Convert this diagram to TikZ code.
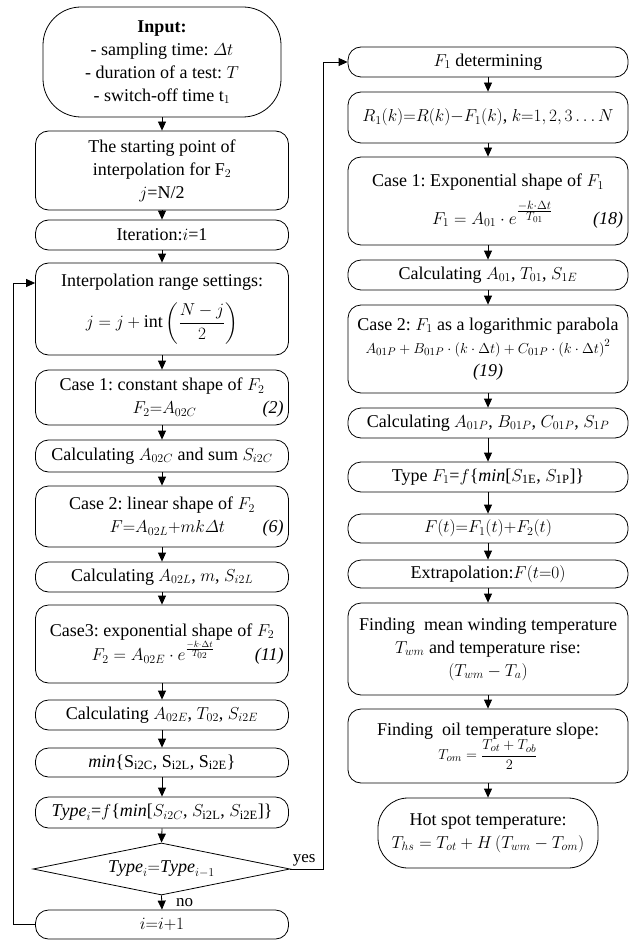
\documentclass[tikz,border=0pt]{standalone}
\usepackage{amsmath}
\usepackage{fontspec}
\setmainfont{Liberation Serif}
\frenchspacing
\usetikzlibrary{arrows.meta,positioning,shapes.geometric}
\tikzset{box/.style={draw,rounded corners=13pt,align=flush center,inner xsep=5pt,inner ysep=2pt,line width=.8pt,font=\fontsize{18}{23}\selectfont},lbox/.style={box,text width=243pt},rbox/.style={box,text width=270pt},decision/.style={diamond,aspect=5,draw,line width=.8pt,minimum width=257pt,minimum height=52pt,inner sep=0pt,font=\fontsize{18}{23}\selectfont},flow/.style={-{Triangle[length=9pt,width=8pt]},line width=.8pt},tag/.style={font=\fontsize{17}{20}\selectfont,inner sep=2pt}}

\begin{document}
\begin{tikzpicture}[x=1pt,y=-1pt]
        \useasboundingbox (0,0) rectangle (633,941);
        \node[lbox,text width=228pt,rounded corners=38pt,minimum height=110pt] (input) at (162,62) {\textbf{Input:}\\- sampling time: $\varDelta t$\\- duration of a test: $T$\\- switch-off time t$_1$};
        \node[lbox,minimum height=79pt] (start) at (162,170.5) {The starting point of\\interpolation for F$_2$\\$j$=N/2};
        \node[lbox,minimum height=30pt] (iter) at (162,235) {Iteration:$i$=1};
        \node[lbox,minimum height=92pt] (range) at (162,309) {Interpolation range settings:\\[11pt]$j=j+\mathrm{int}\left(\dfrac{N-j}{2}\right)$};
        \node[lbox,minimum height=55pt] (case1c) at (162,397.5) {Case 1: constant shape of $F_2$\\\hspace*{92pt}$F_2{=}A_{02C}$\hfill\textit{(2)}\hspace*{8pt}};
        \node[lbox,minimum height=32pt] (calcc) at (162,456) {Calculating $A_{02C}$ and sum $S_{i2C}$};
        \node[lbox,minimum height=61pt] (case2l) at (162,516.5) {Case 2: linear shape of $F_2$\\\hspace*{69pt}$F{=}A_{02L}{+}mk\varDelta t$\hfill\textit{(6)}\hspace*{16pt}};
        \node[lbox,minimum height=30pt] (calcl) at (162,577) {Calculating $A_{02L}$, $m$, $S_{i2L}$};
        \node[lbox,minimum height=78pt] (case3e) at (162,644) {Case3: exponential shape of $F_2$\\\hspace*{51pt}$F_2 = A_{02E}\cdot e^{\frac{-k\cdot\Delta t}{T_{02}}}$\hfill\textit{(11)}\hspace*{14pt}};
        \node[lbox,minimum height=30pt] (calce) at (162,715) {Calculating $A_{02E}$, $T_{02}$, $S_{i2E}$};
        \node[lbox,minimum height=29pt] (mins) at (162,762.5) {\textit{min}\{S$_{\mathrm{i2C}}$, S$_{\mathrm{i2L}}$, S$_{\mathrm{i2E}}$\}};
        \node[lbox,minimum height=31pt] (typei) at (162,812.5) {$\mathit{Type}_i${=}$f$\{\textit{min}[$S_{i2C}$, $S_{\mathrm{i2L}}$, $S_{\mathrm{i2E}}$]\}};
        \node[decision] (decide) at (161.5,869) {$\mathit{Type}_i{=}\mathit{Type}_{i-1}$};
        \node[lbox,minimum height=29pt] (incr) at (162,924.5) {$i{=}i{+}1$};
        \node[rbox,minimum height=30pt] (f1det) at (488,62) {$F_1$ determining};
        \node[rbox,minimum height=51pt] (r1) at (488,117.5) {$R_1(k){=}R(k){-}F_1(k)$, $k{=}1,2,3\ldots N$};
        \node[rbox,minimum height=88pt] (case1f) at (488,201) {Case 1: Exponential shape of $F_1$\\[10pt]\hspace*{79pt}$F_1 = A_{01}\cdot e^{\frac{\scriptstyle -k\cdot\Delta t}{\scriptstyle T_{01}}}$\hfill\textit{(18)}\hspace*{1pt}};
        \node[rbox,minimum height=30pt] (calc01) at (488,275) {Calculating $A_{01}$, $T_{01}$, $S_{1E}$};
        \node[rbox,minimum height=88pt] (case2p) at (488,349) {Case 2: $F_1$ as a logarithmic parabola\\{\fontsize{15.5}{18}\selectfont$A_{01P}+B_{01P}\cdot\left(k\cdot\Delta t\right)+C_{01P}\cdot\left(k\cdot\Delta t\right)^2$}\\\textit{(19)}};
        \node[rbox,minimum height=30pt] (calcp) at (488,423) {Calculating $A_{01P}$, $B_{01P}$, $C_{01P}$, $S_{1P}$};
        \node[rbox,minimum height=30pt] (typef) at (488,477) {Type $F_1${=}$f$\{\textit{min}[$S_{\mathrm{1E}}$, $S_{\mathrm{1P}}$]\}};
        \node[rbox,minimum height=29pt] (fsum) at (488,528.5) {$F(t){=}F_1(t){+}F_2(t)$};
        \node[rbox,minimum height=28pt] (extra) at (488,574) {Extrapolation:$F(t{=}0)$};
        \node[rbox,minimum height=92pt] (mean) at (488,649) {Finding~ mean winding temperature\\$T_{wm}$ and temperature rise:\\$\left(T_{wm}-T_a\right)$};
        \node[rbox,minimum height=74pt] (oil) at (488,746) {Finding~ oil temperature slope:\\{\fontsize{15}{18}\selectfont$T_{om}=\dfrac{T_{ot}+T_{ob}}{2}$}};
        \node[box,text width=210pt,rounded corners=30pt,minimum height=70pt] (hot) at (488,833) {Hot spot temperature:\\$T_{hs}=T_{ot}+H\left(T_{wm}-T_{om}\right)$};
        \foreach \a/\b in {input/start,start/iter,iter/range,range/case1c,case1c/calcc,calcc/case2l,case2l/calcl,calcl/case3e,case3e/calce,calce/mins,mins/typei,typei/decide,f1det/r1,r1/case1f,case1f/calc01,calc01/case2p,case2p/calcp,calcp/typef,typef/fsum,fsum/extra,extra/mean,mean/oil,oil/hot}
          \draw[flow] (\a.south) -- (\b.north);
        \draw[flow] (decide.south) -- node[tag,right=12pt]{no} (incr.north);
        \coordinate (backL) at (13,283);
        \coordinate (backR) at (323,869);
        \draw[flow] (incr.west) -| (backL) -- (backL -| range.west);
        \draw[flow] (decide.east) -- node[tag,above right,pos=0]{yes} (backR) |- (f1det.west);
      \end{tikzpicture}
\end{document}
